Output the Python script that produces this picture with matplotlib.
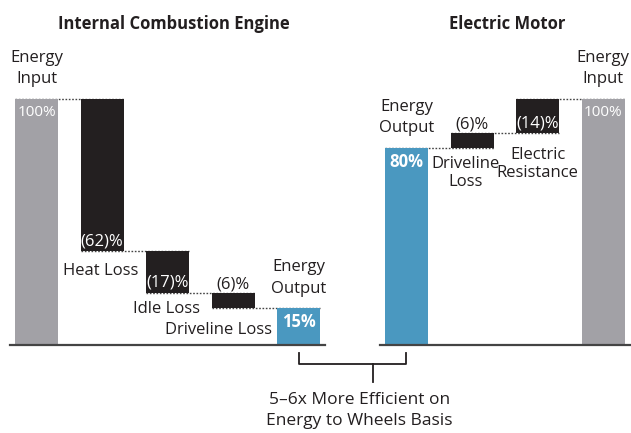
import matplotlib
matplotlib.use("Agg")
import matplotlib.pyplot as plt

# Waterfall data (percent of energy input)
ice_names = ["Energy Input", "Heat Loss", "Idle Loss", "Driveline Loss", "Energy Output"]
ice_values = [100, -62, -17, -6, 15]
ev_names = ["Energy Output", "Driveline Loss", "Electric Resistance", "Energy Input"]
ev_values = [80, -6, -14, 100]
bracket_text = "5\u20136x More Efficient on\nEnergy to Wheels Basis"

gray = "#A2A1A6"
black = "#231F20"
blue = "#4A98C0"
ink = "#231F20"

plt.rcParams["font.family"] = ["Open Sans", "DejaVu Sans"]

fig = plt.figure(figsize=(6.31, 4.33), dpi=100)
ax = fig.add_axes([0, 0, 1, 1])
ax.set_xlim(-0.556, 9.063)
ax.set_ylim(-35.8, 140.2)
ax.axis("off")

w = 0.655
fs = 12

# bar geometry for the ICE side (left to right: input, losses, output)
ice_x = list(range(len(ice_values)))
ice_bot, ice_top = [], []
level = 0
for i, v in enumerate(ice_values):
    if i == 0 or i == len(ice_values) - 1:
        ice_bot.append(0)
        ice_top.append(abs(v))
        level = abs(v)
    else:
        ice_top.append(level)
        ice_bot.append(level + v)
        level = level + v

# EV side is read right to left (input on the right)
ev_x = [4 + 1.64 + i for i in range(len(ev_values))]
ev_bot, ev_top = [0] * len(ev_values), [0] * len(ev_values)
level = 0
for i in range(len(ev_values) - 1, -1, -1):
    v = ev_values[i]
    if i == len(ev_values) - 1 or i == 0:
        ev_bot[i], ev_top[i] = 0, abs(v)
        level = abs(v)
    else:
        ev_top[i] = level
        ev_bot[i] = level + v
        level = level + v

ice_cols = [gray, black, black, black, blue]
ev_cols = [blue, black, black, gray]

for xs, bots, tops, cols in [(ice_x, ice_bot, ice_top, ice_cols), (ev_x, ev_bot, ev_top, ev_cols)]:
    heights = [t - b for t, b in zip(tops, bots)]
    ax.bar(xs, heights, bottom=bots, width=w, color=cols, zorder=3)
    # dotted connectors between neighbouring bars
    for i in range(len(xs) - 1):
        shared = set([bots[i], tops[i]]) & set([bots[i + 1], tops[i + 1]])
        lev = max(shared)
        ax.plot([xs[i] - w / 2, xs[i + 1] + w / 2], [lev, lev], color="#444444",
                lw=1.0, ls=(0, (1.2, 1.2)), zorder=2)

# baselines
ax.plot([-0.40, 4.40], [0, 0], color="#444444", lw=1.6, zorder=4)
ax.plot([5.24, 9.063], [0, 0], color="#444444", lw=1.6, zorder=4)

# titles
ax.text(2.10, 130.5, "Internal Combustion Engine", ha="center", va="center",
        fontsize=fs, fontweight="bold", color=ink)
ax.text(7.18, 130.5, "Electric Motor", ha="center", va="center",
        fontsize=fs, fontweight="bold", color=ink)

ls2 = 1.42
# ICE labels
ax.text(ice_x[0], ice_top[0] + 12.2, "Energy\nInput", ha="center", va="center",
        fontsize=fs, color=ink, linespacing=ls2)
ax.text(ice_x[0], ice_top[0] - 5.7, f"{ice_values[0]}%", ha="center", va="center",
        fontsize=fs - 1, color="white", zorder=5)
for i in (1, 2):
    ax.text(ice_x[i], ice_bot[i] + 4.2, f"({-ice_values[i]})%", ha="center", va="center",
            fontsize=fs, color="white", zorder=5)
ax.text(ice_x[1] - 0.02, ice_bot[1] - 7.8, ice_names[1], ha="center", va="center",
        fontsize=fs, color=ink)
ax.text(ice_x[2] - 0.02, ice_bot[2] - 6.4, ice_names[2], ha="center", va="center",
        fontsize=fs, color=ink)
ax.text(ice_x[3], ice_top[3] + 3.4, f"({-ice_values[3]})%", ha="center", va="center",
        fontsize=fs, color=ink)
ax.text(ice_x[3] + w / 2 + 0.27, ice_bot[3] - 8.9, ice_names[3], ha="right", va="center",
        fontsize=fs, color=ink)
ax.text(ice_x[4], ice_top[4] + 12.2, "Energy\nOutput", ha="center", va="center",
        fontsize=fs, color=ink, linespacing=ls2)
ax.text(ice_x[4], ice_top[4] - 5.5, f"{ice_values[4]}%", ha="center", va="center",
        fontsize=fs, fontweight="bold", color="white", zorder=5)

# EV labels
ax.text(ev_x[0], ev_top[0] + 12.5, "Energy\nOutput", ha="center", va="center",
        fontsize=fs, color=ink, linespacing=ls2)
ax.text(ev_x[0], ev_top[0] - 5.6, f"{ev_values[0]}%", ha="center", va="center",
        fontsize=fs, fontweight="bold", color="white", zorder=5)
ax.text(ev_x[1], ev_top[1] + 3.4, f"({-ev_values[1]})%", ha="center", va="center",
        fontsize=fs, color=ink)
ax.text(ev_x[1] - 0.1, ev_bot[1] - 10.1, "Driveline\nLoss", ha="center", va="center",
        fontsize=fs, color=ink, linespacing=1.2)
ax.text(ev_x[2], ev_bot[2] + 3.8, f"({-ev_values[2]})%", ha="center", va="center",
        fontsize=fs, color="white", zorder=5)
ax.text(ev_x[2], ev_bot[2] - 12.4, "Electric\nResistance", ha="center", va="center",
        fontsize=fs, color=ink, linespacing=1.2)
ax.text(ev_x[3], ev_top[3] + 12.2, "Energy\nInput", ha="center", va="center",
        fontsize=fs, color=ink, linespacing=ls2)
ax.text(ev_x[3], ev_top[3] - 5.7, f"{ev_values[3]}%", ha="center", va="center",
        fontsize=fs - 1, color="white", zorder=5)

# bracket comparing the two outputs
bx0, bx1 = ice_x[-1], ev_x[0]
stem = bx0 + 0.69 * (bx1 - bx0)
ax.plot([bx0, bx0, bx1, bx1], [-3.25, -7.7, -7.7, -3.25], color=ink, lw=1.3)
ax.plot([stem, stem], [-7.7, -15.0], color=ink, lw=1.3)
ax.text(4.92, -26.6, bracket_text, ha="center", va="center", fontsize=fs + 0.5,
        color=ink, linespacing=1.45)

fig.savefig("out.png", dpi=100)
